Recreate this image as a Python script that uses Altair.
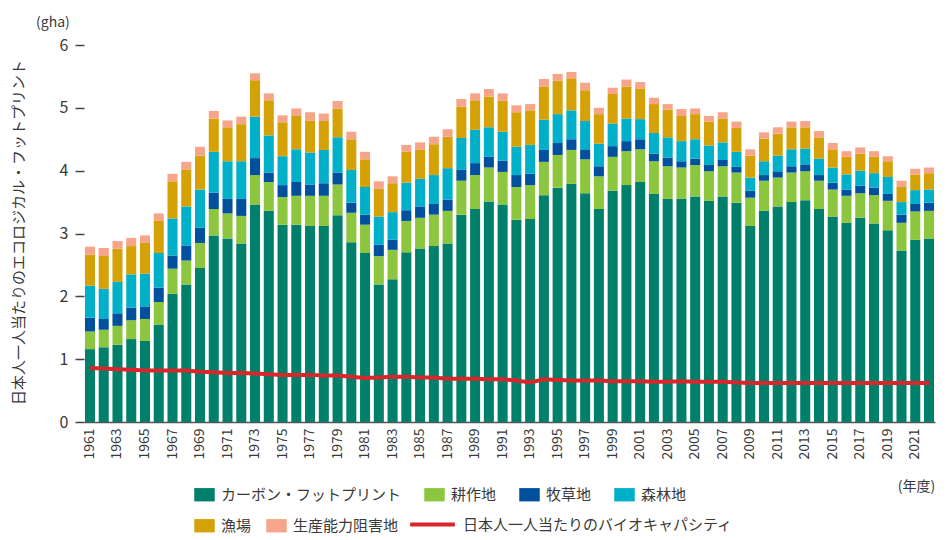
import altair as alt
import pandas as pd

years = [str(y) for y in range(1961, 2023)]

carbon = [1.16, 1.19, 1.23, 1.32, 1.29, 1.55, 2.04, 2.19, 2.45, 2.97,
          2.92, 2.84, 3.46, 3.36, 3.14, 3.14, 3.12, 3.12, 3.29, 2.86,
          2.69, 2.19, 2.27, 2.70, 2.76, 2.80, 2.84, 3.30, 3.39, 3.51,
          3.46, 3.22, 3.23, 3.61, 3.73, 3.79, 3.64, 3.39, 3.68, 3.77,
          3.82, 3.63, 3.55, 3.55, 3.59, 3.52, 3.59, 3.49, 3.12, 3.36,
          3.43, 3.50, 3.53, 3.39, 3.27, 3.17, 3.25, 3.16, 3.05, 2.73,
          2.90, 2.92]
cropland = [0.28, 0.28, 0.30, 0.30, 0.35, 0.36, 0.40, 0.38, 0.40, 0.42,
            0.40, 0.44, 0.47, 0.46, 0.44, 0.46, 0.48, 0.48, 0.49, 0.47,
            0.45, 0.45, 0.47, 0.50, 0.49, 0.50, 0.52, 0.54, 0.54, 0.54,
            0.52, 0.52, 0.54, 0.53, 0.52, 0.54, 0.54, 0.52, 0.54, 0.54,
            0.52, 0.52, 0.52, 0.50, 0.50, 0.47, 0.48, 0.48, 0.45, 0.48,
            0.46, 0.47, 0.46, 0.45, 0.43, 0.43, 0.39, 0.45, 0.47, 0.44,
            0.45, 0.44]
grazing = [0.22, 0.17, 0.20, 0.20, 0.20, 0.23, 0.21, 0.24, 0.24, 0.26,
           0.23, 0.27, 0.27, 0.15, 0.19, 0.22, 0.18, 0.20, 0.19, 0.16,
           0.16, 0.18, 0.16, 0.17, 0.18, 0.17, 0.18, 0.18, 0.19, 0.17,
           0.18, 0.19, 0.18, 0.19, 0.19, 0.17, 0.16, 0.16, 0.17, 0.16,
           0.16, 0.12, 0.14, 0.10, 0.10, 0.10, 0.10, 0.09, 0.11, 0.09,
           0.10, 0.10, 0.11, 0.09, 0.11, 0.10, 0.12, 0.12, 0.11, 0.13,
           0.12, 0.13]
forest = [0.51, 0.48, 0.50, 0.53, 0.52, 0.55, 0.59, 0.62, 0.61, 0.65,
          0.60, 0.60, 0.66, 0.59, 0.46, 0.52, 0.51, 0.53, 0.56, 0.52,
          0.44, 0.45, 0.44, 0.44, 0.44, 0.46, 0.50, 0.50, 0.53, 0.47,
          0.46, 0.45, 0.46, 0.48, 0.46, 0.46, 0.45, 0.36, 0.36, 0.36,
          0.32, 0.33, 0.32, 0.32, 0.31, 0.31, 0.28, 0.24, 0.21, 0.22,
          0.25, 0.27, 0.25, 0.26, 0.24, 0.24, 0.24, 0.23, 0.27, 0.20,
          0.22, 0.21]
fishing = [0.49, 0.52, 0.53, 0.45, 0.49, 0.51, 0.59, 0.59, 0.54, 0.53,
           0.54, 0.59, 0.58, 0.56, 0.54, 0.53, 0.51, 0.46, 0.46, 0.49,
           0.44, 0.44, 0.46, 0.49, 0.46, 0.49, 0.50, 0.50, 0.47, 0.49,
           0.49, 0.55, 0.55, 0.53, 0.53, 0.51, 0.49, 0.47, 0.47, 0.51,
           0.49, 0.46, 0.44, 0.40, 0.40, 0.38, 0.38, 0.38, 0.35, 0.36,
           0.35, 0.35, 0.34, 0.34, 0.29, 0.28, 0.27, 0.26, 0.25, 0.24,
           0.25, 0.26]
builtup = [0.13, 0.13, 0.12, 0.13, 0.12, 0.12, 0.12, 0.12, 0.14, 0.12,
           0.11, 0.12, 0.11, 0.11, 0.11, 0.12, 0.13, 0.12, 0.12, 0.12,
           0.12, 0.12, 0.11, 0.11, 0.12, 0.12, 0.12, 0.12, 0.11, 0.12,
           0.12, 0.11, 0.10, 0.12, 0.11, 0.10, 0.12, 0.10, 0.10, 0.11,
           0.10, 0.10, 0.09, 0.11, 0.09, 0.09, 0.10, 0.10, 0.10, 0.10,
           0.10, 0.09, 0.10, 0.10, 0.10, 0.09, 0.10, 0.09, 0.08, 0.10,
           0.09, 0.09]
biocapacity = [0.86, 0.85, 0.84, 0.83, 0.82, 0.82, 0.82, 0.82, 0.80, 0.79,
               0.78, 0.78, 0.77, 0.76, 0.75, 0.75, 0.75, 0.74, 0.74, 0.72,
               0.70, 0.71, 0.72, 0.72, 0.71, 0.71, 0.69, 0.69, 0.69, 0.68,
               0.68, 0.66, 0.63, 0.68, 0.67, 0.66, 0.66, 0.66, 0.65, 0.65,
               0.65, 0.64, 0.64, 0.65, 0.64, 0.64, 0.64, 0.63, 0.62, 0.62,
               0.62, 0.62, 0.62, 0.62, 0.62, 0.62, 0.62, 0.62, 0.62, 0.62,
               0.62, 0.62]

components = ["カーボン・フットプリント", "耕作地", "牧草地", "森林地", "漁場", "生産能力阻害地"]
colors = ["#00806a", "#8cc63f", "#00509e", "#00afc8", "#d4a106", "#f7a58a"]
line_name = "日本人一人当たりのバイオキャパシティ"
line_color = "#d9262b"
tick_years = [str(y) for y in range(1961, 2022, 2)]

series = [carbon, cropland, grazing, forest, fishing, builtup]
rows = []
for ci, (name, vals) in enumerate(zip(components, series)):
    for y, v in zip(years, vals):
        rows.append({"year": y, "component": name, "order": ci, "value": v})
df = pd.DataFrame(rows)
dfl = pd.DataFrame({"year": years, "bio": biocapacity, "name": line_name})

FONT = "Noto Sans CJK JP"
TXT = "#3a3a3a"

x_enc = alt.X(
    "year:N",
    sort=years,
    scale=alt.Scale(paddingInner=0.27, paddingOuter=0.07),
    axis=alt.Axis(
        values=tick_years,
        labelAngle=-90,
        labelAlign="right",
        labelBaseline="middle",
        labelFontSize=14,
        labelColor=TXT,
        labelPadding=6,
        ticks=False,
        domainColor="#555555",
        domainWidth=1.5,
        title="(年度)",
        titleAngle=0,
        titleX=832,
        titleY=64,
        titleAlign="center",
        titleBaseline="middle",
        titleFontSize=14,
        titleFontWeight="normal",
        titleColor=TXT,
    ),
)

y_enc = alt.Y(
    "y1:Q",
    scale=alt.Scale(domain=[0, 6], nice=False),
    axis=alt.Axis(
        values=[0, 1, 2, 3, 4, 5, 6],
        format="d",
        grid=False,
        domain=False,
        tickSize=9,
        tickWidth=1.5,
        tickColor="#444444",
        labelPadding=7,
        labelFontSize=16,
        labelColor=TXT,
        title="日本人一人当たりのエコロジカル・フットプリント",
        titleAngle=-90,
        titleX=-66,
        titleY=187,
        titleAlign="center",
        titleBaseline="middle",
        titleFontSize=15,
        titleFontWeight="normal",
        titleColor=TXT,
    ),
)

def legend(x, y, gap):
    return alt.Legend(
        title=None,
        orient="none",
        legendX=x,
        legendY=y,
        direction="horizontal",
        columnPadding=gap,
        symbolType="M-1,-0.65L1,-0.65L1,0.65L-1,0.65Z",
        symbolSize=420,
        symbolStrokeWidth=0,
        symbolOpacity=1,
        labelFontSize=15,
        labelColor=TXT,
        labelOffset=6,
        labelLimit=400,
    )

base = alt.Chart(df).transform_stack(
    stack="value",
    groupby=["year"],
    as_=["y0", "y1"],
    sort=[alt.SortField("order", order="ascending")],
)

bars_a = base.transform_filter(
    alt.FieldOneOfPredicate(field="component", oneOf=components[:4])
).mark_bar().encode(
    x=x_enc,
    y=y_enc,
    y2="y0:Q",
    color=alt.Color(
        "component:N",
        scale=alt.Scale(domain=components[:4], range=colors[:4]),
        legend=legend(110, 439, 22),
    ),
)

bars_b = base.transform_filter(
    alt.FieldOneOfPredicate(field="component", oneOf=components[4:])
).mark_bar().encode(
    x=alt.X("year:N", sort=years),
    y=alt.Y("y1:Q"),
    y2="y0:Q",
    fill=alt.Fill(
        "component:N",
        scale=alt.Scale(domain=components[4:], range=colors[4:]),
        legend=legend(110, 470, 14),
    ),
)

line = alt.Chart(dfl).mark_line(strokeWidth=4).encode(
    x=alt.X("year:N", sort=years),
    y=alt.Y("bio:Q"),
    stroke=alt.Stroke(
        "name:N",
        scale=alt.Scale(domain=[line_name], range=[line_color]),
        legend=alt.Legend(
            title=None,
            orient="none",
            legendX=324,
            legendY=455,
            symbolType="stroke",
            symbolSize=2000,
            symbolStrokeWidth=4,
            labelFontSize=15,
            labelColor=TXT,
            labelOffset=6,
            labelLimit=500,
        ),
    ),
)

chart = (
    alt.layer(bars_a, bars_b, line)
    .properties(
        width=851,
        height=377,
        padding={"left": 76, "top": 37, "right": 4, "bottom": 115},
        autosize=alt.AutoSizeParams(type="none"),
        title=alt.Title(
            "(gha)",
            anchor="start",
            frame="group",
            dx=-48,
            offset=7,
            fontSize=14,
            fontWeight="normal",
            color=TXT,
            font=FONT,
        ),
    )
    .configure(font=FONT)
    .configure_view(stroke=None)
    .configure_axis(labelFont=FONT, titleFont=FONT)
    .configure_legend(labelFont=FONT)
)

chart.save("out.html", embed_options={"renderer": "svg", "actions": False})
